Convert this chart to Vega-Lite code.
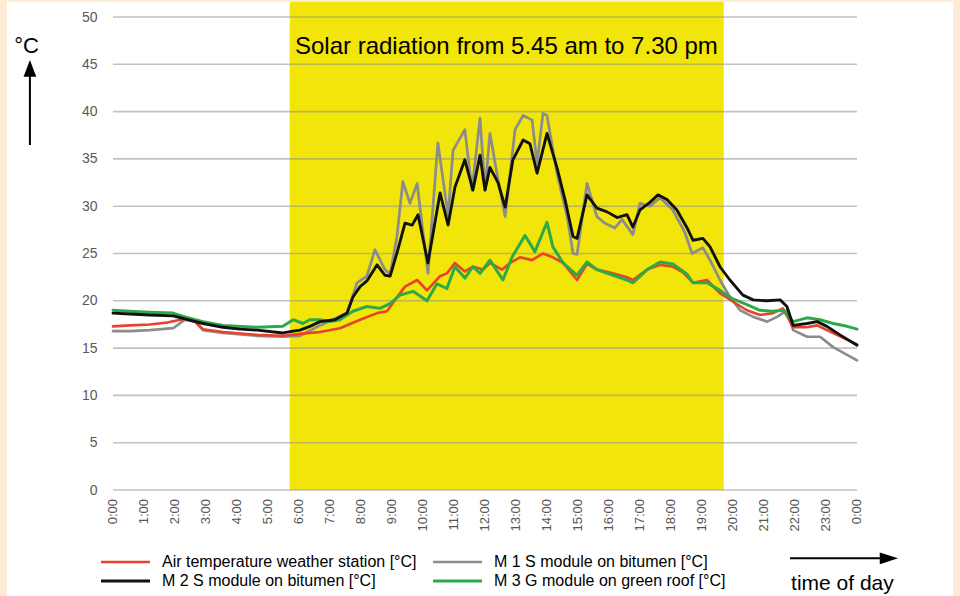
{
  "$schema": "https://vega.github.io/schema/vega-lite/v6.json",
  "width": 744,
  "height": 473,
  "autosize": {"type": "none"},
  "padding": {"left": 113, "top": 17, "right": 103, "bottom": 106},
  "background": "#FDEBD6",
  "config": {"view": {"stroke": null}, "font": "Liberation Sans"},
  "datasets": {
    "band": [{"start": 5.7, "end": 19.7}],
    "grid": [{"g": 0}, {"g": 5}, {"g": 10}, {"g": 15}, {"g": 20}, {"g": 25}, {"g": 30}, {"g": 35}, {"g": 40}, {"g": 45}, {"g": 50}],
    "hours": [
      {"h": 0, "lab": "0:00"}, {"h": 1, "lab": "1:00"}, {"h": 2, "lab": "2:00"}, {"h": 3, "lab": "3:00"}, {"h": 4, "lab": "4:00"},
      {"h": 5, "lab": "5:00"}, {"h": 6, "lab": "6:00"}, {"h": 7, "lab": "7:00"}, {"h": 8, "lab": "8:00"}, {"h": 9, "lab": "9:00"},
      {"h": 10, "lab": "10:00"}, {"h": 11, "lab": "11:00"}, {"h": 12, "lab": "12:00"}, {"h": 13, "lab": "13:00"}, {"h": 14, "lab": "14:00"},
      {"h": 15, "lab": "15:00"}, {"h": 16, "lab": "16:00"}, {"h": 17, "lab": "17:00"}, {"h": 18, "lab": "18:00"}, {"h": 19, "lab": "19:00"},
      {"h": 20, "lab": "20:00"}, {"h": 21, "lab": "21:00"}, {"h": 22, "lab": "22:00"}, {"h": 23, "lab": "23:00"}, {"h": 24, "lab": "0:00"}
    ],
    "temps": [
      {"s": "m1", "t": 0, "v": 16.8}, {"s": "m1", "t": 0.55, "v": 16.8}, {"s": "m1", "t": 1.19, "v": 16.9}, {"s": "m1", "t": 1.94, "v": 17.1},
      {"s": "m1", "t": 2.32, "v": 18.0}, {"s": "m1", "t": 2.65, "v": 17.8}, {"s": "m1", "t": 2.9, "v": 16.9}, {"s": "m1", "t": 3.55, "v": 16.6},
      {"s": "m1", "t": 4.65, "v": 16.3}, {"s": "m1", "t": 5.48, "v": 16.2}, {"s": "m1", "t": 6.03, "v": 16.3}, {"s": "m1", "t": 6.68, "v": 17.4},
      {"s": "m1", "t": 7.55, "v": 18.7}, {"s": "m1", "t": 7.87, "v": 21.9}, {"s": "m1", "t": 8.19, "v": 22.6}, {"s": "m1", "t": 8.45, "v": 25.4},
      {"s": "m1", "t": 8.77, "v": 23.3}, {"s": "m1", "t": 8.94, "v": 22.8}, {"s": "m1", "t": 9.16, "v": 26.8}, {"s": "m1", "t": 9.35, "v": 32.6},
      {"s": "m1", "t": 9.58, "v": 30.3}, {"s": "m1", "t": 9.81, "v": 32.4}, {"s": "m1", "t": 10.16, "v": 22.9}, {"s": "m1", "t": 10.48, "v": 36.7},
      {"s": "m1", "t": 10.81, "v": 29.0}, {"s": "m1", "t": 10.97, "v": 35.9}, {"s": "m1", "t": 11.35, "v": 38.1}, {"s": "m1", "t": 11.58, "v": 31.7},
      {"s": "m1", "t": 11.84, "v": 39.3}, {"s": "m1", "t": 12.0, "v": 31.7}, {"s": "m1", "t": 12.16, "v": 37.7}, {"s": "m1", "t": 12.42, "v": 32.8},
      {"s": "m1", "t": 12.65, "v": 28.9}, {"s": "m1", "t": 12.97, "v": 38.1}, {"s": "m1", "t": 13.23, "v": 39.6}, {"s": "m1", "t": 13.52, "v": 39.1},
      {"s": "m1", "t": 13.68, "v": 34.5}, {"s": "m1", "t": 13.87, "v": 39.8}, {"s": "m1", "t": 14.0, "v": 39.6}, {"s": "m1", "t": 14.32, "v": 33.5},
      {"s": "m1", "t": 14.65, "v": 28.9}, {"s": "m1", "t": 14.84, "v": 25.0}, {"s": "m1", "t": 14.97, "v": 24.9}, {"s": "m1", "t": 15.29, "v": 32.4},
      {"s": "m1", "t": 15.61, "v": 28.9}, {"s": "m1", "t": 15.87, "v": 28.2}, {"s": "m1", "t": 16.19, "v": 27.7}, {"s": "m1", "t": 16.42, "v": 28.6},
      {"s": "m1", "t": 16.77, "v": 27.0}, {"s": "m1", "t": 17.0, "v": 30.3}, {"s": "m1", "t": 17.32, "v": 30.0}, {"s": "m1", "t": 17.65, "v": 30.9},
      {"s": "m1", "t": 18.06, "v": 29.6}, {"s": "m1", "t": 18.45, "v": 27.2}, {"s": "m1", "t": 18.68, "v": 25.0}, {"s": "m1", "t": 19.03, "v": 25.6},
      {"s": "m1", "t": 19.26, "v": 24.3}, {"s": "m1", "t": 19.58, "v": 22.2}, {"s": "m1", "t": 19.9, "v": 20.4}, {"s": "m1", "t": 20.23, "v": 19.0},
      {"s": "m1", "t": 20.65, "v": 18.3}, {"s": "m1", "t": 21.1, "v": 17.8}, {"s": "m1", "t": 21.42, "v": 18.3}, {"s": "m1", "t": 21.74, "v": 19.0},
      {"s": "m1", "t": 21.94, "v": 16.9}, {"s": "m1", "t": 22.39, "v": 16.2}, {"s": "m1", "t": 22.81, "v": 16.2}, {"s": "m1", "t": 23.23, "v": 15.1},
      {"s": "m1", "t": 24.0, "v": 13.7},

      {"s": "air", "t": 0, "v": 17.3}, {"s": "air", "t": 0.55, "v": 17.4}, {"s": "air", "t": 1.19, "v": 17.5}, {"s": "air", "t": 1.75, "v": 17.7},
      {"s": "air", "t": 2.32, "v": 18.1}, {"s": "air", "t": 2.65, "v": 17.8}, {"s": "air", "t": 2.9, "v": 17.0}, {"s": "air", "t": 3.55, "v": 16.7},
      {"s": "air", "t": 4.65, "v": 16.4}, {"s": "air", "t": 5.48, "v": 16.3}, {"s": "air", "t": 6.03, "v": 16.5}, {"s": "air", "t": 6.68, "v": 16.7},
      {"s": "air", "t": 7.32, "v": 17.1}, {"s": "air", "t": 7.97, "v": 18.0}, {"s": "air", "t": 8.52, "v": 18.7}, {"s": "air", "t": 8.84, "v": 18.9},
      {"s": "air", "t": 9.1, "v": 20.1}, {"s": "air", "t": 9.42, "v": 21.5}, {"s": "air", "t": 9.81, "v": 22.2}, {"s": "air", "t": 10.13, "v": 21.1},
      {"s": "air", "t": 10.55, "v": 22.6}, {"s": "air", "t": 10.77, "v": 22.9}, {"s": "air", "t": 11.03, "v": 24.0}, {"s": "air", "t": 11.35, "v": 23.1},
      {"s": "air", "t": 11.61, "v": 23.6}, {"s": "air", "t": 11.94, "v": 23.3}, {"s": "air", "t": 12.16, "v": 24.0}, {"s": "air", "t": 12.55, "v": 23.3},
      {"s": "air", "t": 12.81, "v": 24.0}, {"s": "air", "t": 13.13, "v": 24.6}, {"s": "air", "t": 13.52, "v": 24.3}, {"s": "air", "t": 13.87, "v": 25.0},
      {"s": "air", "t": 14.19, "v": 24.6}, {"s": "air", "t": 14.52, "v": 24.0}, {"s": "air", "t": 14.97, "v": 22.2}, {"s": "air", "t": 15.29, "v": 23.9},
      {"s": "air", "t": 15.61, "v": 23.3}, {"s": "air", "t": 16.03, "v": 23.0}, {"s": "air", "t": 16.58, "v": 22.5}, {"s": "air", "t": 16.77, "v": 22.2},
      {"s": "air", "t": 17.23, "v": 23.3}, {"s": "air", "t": 17.65, "v": 23.8}, {"s": "air", "t": 18.06, "v": 23.6}, {"s": "air", "t": 18.39, "v": 23.0},
      {"s": "air", "t": 18.71, "v": 21.9}, {"s": "air", "t": 19.16, "v": 22.2}, {"s": "air", "t": 19.58, "v": 20.8}, {"s": "air", "t": 20.0, "v": 19.9},
      {"s": "air", "t": 20.45, "v": 19.0}, {"s": "air", "t": 20.87, "v": 18.5}, {"s": "air", "t": 21.29, "v": 18.7}, {"s": "air", "t": 21.61, "v": 19.2},
      {"s": "air", "t": 21.94, "v": 17.2}, {"s": "air", "t": 22.39, "v": 17.2}, {"s": "air", "t": 22.71, "v": 17.4}, {"s": "air", "t": 23.23, "v": 16.6},
      {"s": "air", "t": 24.0, "v": 15.4},

      {"s": "m3", "t": 0, "v": 19.0}, {"s": "m3", "t": 0.55, "v": 18.9}, {"s": "m3", "t": 1.19, "v": 18.8}, {"s": "m3", "t": 1.94, "v": 18.7},
      {"s": "m3", "t": 2.32, "v": 18.3}, {"s": "m3", "t": 2.9, "v": 17.8}, {"s": "m3", "t": 3.55, "v": 17.4}, {"s": "m3", "t": 4.65, "v": 17.2},
      {"s": "m3", "t": 5.48, "v": 17.3}, {"s": "m3", "t": 5.81, "v": 18.0}, {"s": "m3", "t": 6.13, "v": 17.6}, {"s": "m3", "t": 6.35, "v": 18.0},
      {"s": "m3", "t": 6.68, "v": 18.0}, {"s": "m3", "t": 7.0, "v": 17.8}, {"s": "m3", "t": 7.32, "v": 18.0}, {"s": "m3", "t": 7.74, "v": 18.9},
      {"s": "m3", "t": 8.19, "v": 19.4}, {"s": "m3", "t": 8.61, "v": 19.2}, {"s": "m3", "t": 8.94, "v": 19.7}, {"s": "m3", "t": 9.26, "v": 20.6},
      {"s": "m3", "t": 9.68, "v": 21.0}, {"s": "m3", "t": 10.13, "v": 20.0}, {"s": "m3", "t": 10.45, "v": 21.8}, {"s": "m3", "t": 10.77, "v": 21.3},
      {"s": "m3", "t": 11.03, "v": 23.6}, {"s": "m3", "t": 11.35, "v": 22.4}, {"s": "m3", "t": 11.61, "v": 23.6}, {"s": "m3", "t": 11.84, "v": 22.9},
      {"s": "m3", "t": 12.16, "v": 24.3}, {"s": "m3", "t": 12.58, "v": 22.2}, {"s": "m3", "t": 12.87, "v": 24.6}, {"s": "m3", "t": 13.29, "v": 26.9},
      {"s": "m3", "t": 13.61, "v": 25.2}, {"s": "m3", "t": 14.0, "v": 28.3}, {"s": "m3", "t": 14.19, "v": 25.7}, {"s": "m3", "t": 14.52, "v": 24.0},
      {"s": "m3", "t": 14.97, "v": 22.7}, {"s": "m3", "t": 15.29, "v": 24.1}, {"s": "m3", "t": 15.61, "v": 23.3}, {"s": "m3", "t": 16.13, "v": 22.7},
      {"s": "m3", "t": 16.58, "v": 22.2}, {"s": "m3", "t": 16.77, "v": 21.9}, {"s": "m3", "t": 17.23, "v": 23.3}, {"s": "m3", "t": 17.65, "v": 24.1},
      {"s": "m3", "t": 18.06, "v": 23.9}, {"s": "m3", "t": 18.52, "v": 22.8}, {"s": "m3", "t": 18.71, "v": 21.9}, {"s": "m3", "t": 19.16, "v": 21.9},
      {"s": "m3", "t": 19.58, "v": 21.1}, {"s": "m3", "t": 20.0, "v": 20.2}, {"s": "m3", "t": 20.45, "v": 19.6}, {"s": "m3", "t": 20.87, "v": 19.0},
      {"s": "m3", "t": 21.29, "v": 18.9}, {"s": "m3", "t": 21.61, "v": 19.0}, {"s": "m3", "t": 21.94, "v": 17.8}, {"s": "m3", "t": 22.39, "v": 18.2},
      {"s": "m3", "t": 22.81, "v": 18.0}, {"s": "m3", "t": 23.23, "v": 17.6}, {"s": "m3", "t": 23.68, "v": 17.3}, {"s": "m3", "t": 24.0, "v": 17.0},

      {"s": "m2", "t": 0, "v": 18.7}, {"s": "m2", "t": 0.55, "v": 18.6}, {"s": "m2", "t": 1.19, "v": 18.5}, {"s": "m2", "t": 1.94, "v": 18.4},
      {"s": "m2", "t": 2.32, "v": 18.1}, {"s": "m2", "t": 2.9, "v": 17.6}, {"s": "m2", "t": 3.55, "v": 17.2}, {"s": "m2", "t": 4.1, "v": 17.0},
      {"s": "m2", "t": 4.65, "v": 16.9}, {"s": "m2", "t": 5.48, "v": 16.6}, {"s": "m2", "t": 5.81, "v": 16.8}, {"s": "m2", "t": 6.03, "v": 16.9},
      {"s": "m2", "t": 6.35, "v": 17.3}, {"s": "m2", "t": 6.68, "v": 17.8}, {"s": "m2", "t": 7.16, "v": 18.0}, {"s": "m2", "t": 7.55, "v": 18.7},
      {"s": "m2", "t": 7.74, "v": 20.4}, {"s": "m2", "t": 7.97, "v": 21.5}, {"s": "m2", "t": 8.19, "v": 22.1}, {"s": "m2", "t": 8.52, "v": 23.8},
      {"s": "m2", "t": 8.77, "v": 22.7}, {"s": "m2", "t": 8.94, "v": 22.6}, {"s": "m2", "t": 9.19, "v": 25.4}, {"s": "m2", "t": 9.42, "v": 28.2},
      {"s": "m2", "t": 9.65, "v": 28.0}, {"s": "m2", "t": 9.84, "v": 29.1}, {"s": "m2", "t": 10.16, "v": 24.0}, {"s": "m2", "t": 10.55, "v": 31.4},
      {"s": "m2", "t": 10.81, "v": 28.0}, {"s": "m2", "t": 11.03, "v": 32.0}, {"s": "m2", "t": 11.35, "v": 34.9}, {"s": "m2", "t": 11.61, "v": 31.7},
      {"s": "m2", "t": 11.84, "v": 35.4}, {"s": "m2", "t": 12.0, "v": 31.7}, {"s": "m2", "t": 12.16, "v": 34.1}, {"s": "m2", "t": 12.42, "v": 32.5},
      {"s": "m2", "t": 12.65, "v": 29.9}, {"s": "m2", "t": 12.9, "v": 34.9}, {"s": "m2", "t": 13.23, "v": 37.0}, {"s": "m2", "t": 13.45, "v": 36.6},
      {"s": "m2", "t": 13.68, "v": 33.5}, {"s": "m2", "t": 14.0, "v": 37.7}, {"s": "m2", "t": 14.32, "v": 34.1}, {"s": "m2", "t": 14.58, "v": 30.7},
      {"s": "m2", "t": 14.84, "v": 26.8}, {"s": "m2", "t": 14.97, "v": 26.6}, {"s": "m2", "t": 15.29, "v": 31.2}, {"s": "m2", "t": 15.61, "v": 29.8},
      {"s": "m2", "t": 15.94, "v": 29.4}, {"s": "m2", "t": 16.26, "v": 28.8}, {"s": "m2", "t": 16.58, "v": 29.1}, {"s": "m2", "t": 16.77, "v": 27.8},
      {"s": "m2", "t": 17.0, "v": 29.6}, {"s": "m2", "t": 17.32, "v": 30.4}, {"s": "m2", "t": 17.58, "v": 31.2}, {"s": "m2", "t": 17.87, "v": 30.7},
      {"s": "m2", "t": 18.19, "v": 29.6}, {"s": "m2", "t": 18.52, "v": 27.7}, {"s": "m2", "t": 18.71, "v": 26.4}, {"s": "m2", "t": 19.03, "v": 26.6},
      {"s": "m2", "t": 19.26, "v": 25.7}, {"s": "m2", "t": 19.58, "v": 23.6}, {"s": "m2", "t": 19.9, "v": 22.2}, {"s": "m2", "t": 20.32, "v": 20.6},
      {"s": "m2", "t": 20.65, "v": 20.1}, {"s": "m2", "t": 21.1, "v": 20.0}, {"s": "m2", "t": 21.52, "v": 20.1}, {"s": "m2", "t": 21.74, "v": 19.4},
      {"s": "m2", "t": 21.94, "v": 17.4}, {"s": "m2", "t": 22.39, "v": 17.6}, {"s": "m2", "t": 22.71, "v": 17.8}, {"s": "m2", "t": 23.03, "v": 17.3},
      {"s": "m2", "t": 23.45, "v": 16.4}, {"s": "m2", "t": 24.0, "v": 15.3}
    ]
  },
  "layer": [
    {
      "data": {"values": [{}]},
      "mark": {"type": "rect", "color": "#FFFFFF", "clip": false},
      "encoding": {
        "x": {
          "datum": -3.42, "type": "quantitative", "title": null,
          "scale": {"domain": [0, 24], "nice": false, "zero": false},
          "axis": {"labels": false, "domain": false, "ticks": false, "grid": false, "zindex": 1}
        },
        "x2": {"datum": 27.1},
        "y": {
          "datum": -11.4, "type": "quantitative", "title": null,
          "scale": {"domain": [0, 50], "nice": false, "zero": true},
          "axis": {
            "values": [0, 5, 10, 15, 20, 25, 30, 35, 40, 45, 50],
            "labelFontSize": 14, "labelColor": "#595959", "labelFont": "Liberation Sans",
            "labelPadding": 16, "domain": false, "ticks": false, "grid": false, "zindex": 1
          }
        },
        "y2": {"datum": 51.6}
      }
    },
    {
      "data": {"name": "band"},
      "mark": {"type": "rect", "color": "#F1E50A", "clip": false},
      "encoding": {
        "x": {"field": "start", "type": "quantitative", "title": null},
        "x2": {"field": "end"},
        "y": {"datum": 0, "type": "quantitative"},
        "y2": {"datum": 51.6}
      }
    },
    {
      "data": {"name": "grid"},
      "mark": {"type": "rule", "color": "#8F8F8F", "opacity": 0.55, "strokeWidth": 1.6},
      "encoding": {
        "y": {"field": "g", "type": "quantitative", "title": null}
      }
    },
    {
      "data": {"name": "hours"},
      "mark": {"type": "text", "angle": 270, "align": "right", "baseline": "middle", "fontSize": 13, "font": "Liberation Sans", "color": "#555555", "clip": false},
      "encoding": {
        "x": {"field": "h", "type": "quantitative", "title": null},
        "y": {"datum": -0.95, "type": "quantitative"},
        "text": {"field": "lab"}
      }
    },
    {
      "data": {"name": "temps"},
      "mark": {"type": "line", "clip": false, "strokeJoin": "round", "strokeCap": "round"},
      "encoding": {
        "x": {"field": "t", "type": "quantitative", "title": null},
        "y": {"field": "v", "type": "quantitative", "title": null},
        "color": {
          "field": "s", "type": "nominal",
          "scale": {"domain": ["air", "m1", "m2", "m3"], "range": ["#E8412C", "#8C8C8C", "#111111", "#2DAA48"]},
          "legend": {
            "orient": "none", "legendX": 4.5, "legendY": 537, "columns": 2, "direction": "horizontal",
            "title": null, "symbolType": "M-4.9,0L4.9,0", "symbolSize": 100, "symbolStrokeWidth": 3,
            "labelFontSize": 16, "labelFont": "Liberation Sans", "labelColor": "#000000", "labelLimit": 500,
            "labelOffset": 28.5, "columnPadding": 9, "rowPadding": 3, "padding": 0,
            "labelExpr": "datum.label == 'air' ? 'Air temperature weather station [°C]' : datum.label == 'm1' ? 'M 1 S module on bitumen [°C]' : datum.label == 'm2' ? 'M 2 S module on bitumen [°C]' : 'M 3 G module on green roof [°C]'"
          }
        },
        "strokeWidth": {
          "field": "s", "type": "nominal",
          "scale": {"domain": ["air", "m1", "m2", "m3"], "range": [2.6, 3, 3.2, 2.8]},
          "legend": null
        }
      }
    },
    {
      "data": {"values": [{}]},
      "mark": {"type": "rule", "color": "#000000", "strokeWidth": 2, "clip": false},
      "encoding": {"x": {"datum": -2.68}, "y": {"datum": 36.47}, "y2": {"datum": 44.2}}
    },
    {
      "data": {"values": [{}]},
      "mark": {"type": "point", "filled": true, "color": "#000000", "opacity": 1, "strokeWidth": 0, "shape": "M0,-1L-0.76,1L0.76,1Z", "size": 279, "clip": false},
      "encoding": {"x": {"datum": -2.68}, "y": {"datum": 44.58}}
    },
    {
      "data": {"values": [{}]},
      "mark": {"type": "rule", "color": "#000000", "strokeWidth": 2, "clip": false},
      "encoding": {"x": {"datum": 21.84}, "x2": {"datum": 24.74}, "y": {"datum": -7.22}}
    },
    {
      "data": {"values": [{}]},
      "mark": {"type": "point", "filled": true, "color": "#000000", "opacity": 1, "strokeWidth": 0, "shape": "M1,0L-1,-0.64L-1,0.64Z", "size": 335, "clip": false},
      "encoding": {"x": {"datum": 25.03}, "y": {"datum": -7.22}}
    },
    {
      "data": {"values": [{"label": "Solar radiation from 5.45 am to 7.30 pm"}]},
      "mark": {"type": "text", "fontSize": 24, "font": "Liberation Sans", "color": "#000000", "align": "center", "baseline": "alphabetic", "clip": false},
      "encoding": {"x": {"datum": 12.69}, "y": {"datum": 46.1}, "text": {"field": "label"}}
    },
    {
      "data": {"values": [{"label": "°C"}]},
      "mark": {"type": "text", "fontSize": 22, "font": "Liberation Sans", "color": "#000000", "align": "center", "baseline": "alphabetic", "clip": false},
      "encoding": {"x": {"datum": -2.79}, "y": {"datum": 46.16}, "text": {"field": "label"}}
    },
    {
      "data": {"values": [{"label": "time of day"}]},
      "mark": {"type": "text", "fontSize": 21, "font": "Liberation Sans", "color": "#000000", "align": "center", "baseline": "alphabetic", "clip": false},
      "encoding": {"x": {"datum": 23.53}, "y": {"datum": -10.57}, "text": {"field": "label"}}
    }
  ]
}
